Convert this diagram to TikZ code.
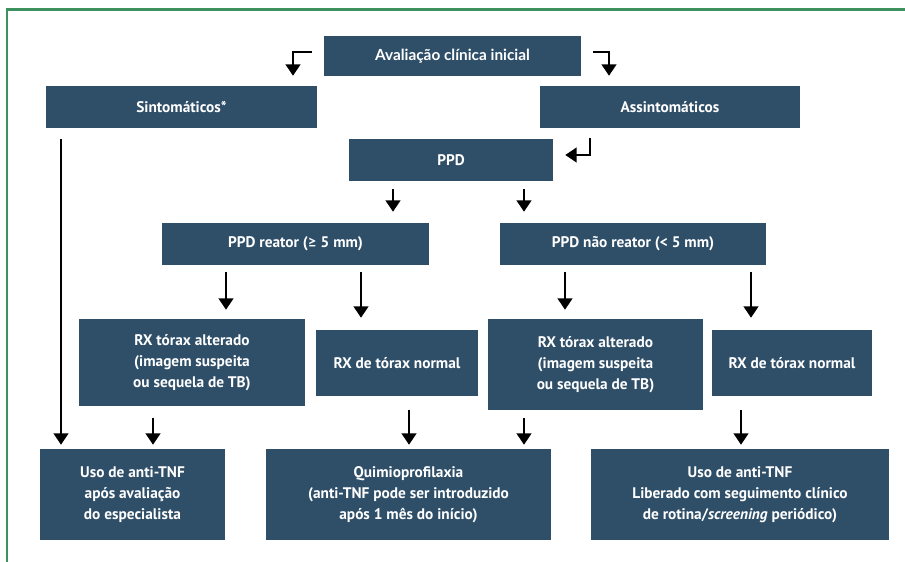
\documentclass[tikz,border=0pt]{standalone}
\usepackage{fontspec}
\setmainfont{PT Sans}
\newfontfamily\titlefont{Lato}
\usetikzlibrary{arrows.meta,calc}
\definecolor{boxblue}{RGB}{47,79,105}
\definecolor{framegreen}{RGB}{60,145,95}
\tikzstyle{block} = [rectangle, fill=boxblue, text=white, align=center,
    font=\bfseries\fontsize{11.5}{15.75}\selectfont, inner sep=0pt]
\tikzstyle{line} = [draw, line width=1.5pt, -{Triangle[width=11pt,length=8.5pt]}]
\tikzstyle{frame} = [draw=framegreen, line width=1.9pt]

\begin{document}
\begin{tikzpicture}[x=0.75pt, y=-0.75pt]
    \useasboundingbox (0,0) rectangle (905,561);
    % Frame
    \path [frame] (7,600) -- (7,9.5) -- (910,9.5);
    % Place nodes
    \node [block, minimum width=192.75pt, minimum height=30pt, font=\titlefont\bfseries\fontsize{11.5}{15.5}\selectfont] (aval) at (452.5,56) {Avaliação clínica inicial};
    \node [block, minimum width=203.25pt, minimum height=31.5pt] (sint) at (181.5,107) {Sintomáticos*};
    \node [block, minimum width=195pt, minimum height=31.5pt] (assint) at (670,107) {Assintomáticos};
    \node [block, minimum width=153pt, minimum height=31.5pt] (ppd) at (451,160) {PPD};
    \node [block, minimum width=200.25pt, minimum height=31.5pt] (reat) at (295.5,244) {PPD reator ({\titlefont ≥} 5 mm)};
    \node [block, minimum width=199.5pt, minimum height=31.5pt] (nreat) at (633,244) {PPD não reator (< 5 mm)};
    \node [block, minimum width=169.5pt, minimum height=65.25pt] (rxa1) at (192,362.5) {RX tórax alterado\\(imagem suspeita\\ou sequela de TB)};
    \node [block, minimum width=121.5pt, minimum height=49.5pt] (rxn1) at (397,363) {RX de tórax normal};
    \node [block, minimum width=161.25pt, minimum height=68.25pt] (rxa2) at (595.5,364.5) {RX tórax alterado\\(imagem suspeita\\ou sequela de TB)};
    \node [block, minimum width=120pt, minimum height=49.5pt] (rxn2) at (792,363) {RX de tórax normal};
    \node [block, minimum width=138.75pt, minimum height=68.25pt] (uso1) at (132.5,494.5) {Uso de anti-TNF\\após avaliação\\do especialista};
    \node [block, minimum width=213.75pt, minimum height=68.25pt] (quimio) at (408.5,494.5) {Quimioprofilaxia\\(anti-TNF pode ser introduzido\\após 1 mês do início)};
    \node [block, minimum width=223.5pt, minimum height=68.25pt] (uso2) at (740,494.5) {Uso de anti-TNF\\Liberado com seguimento clínico\\de rotina/\textit{screening} periódico)};
    % Draw edges
    \path [line] ($(aval.west)+(-12,-4)$) -| ($(sint.north)+(111.5,-10)$);
    \path [line] ($(aval.east)+(12,-4)$) -| ($(assint.north)+(-61,-10)$);
    \path [line] ($(ppd.east)+(37,-22)$) |- ($(ppd.east)+(12,-5)$);
    \path [line] ($(ppd.south)+(-58,8)$) -- ($(reat.north)+(97.5,-11)$);
    \path [line] ($(ppd.south)+(73,8)$) -- ($(nreat.north)+(-109,-11)$);
    \path [line] ($(reat.south)+(-69.5,7)$) -- ($(rxa1.north)+(34,-9)$);
    \path [line] ($(reat.south)+(65.5,7)$) -- ($(rxn1.north)+(-36,-12)$);
    \path [line] ($(nreat.south)+(-68,7)$) -- ($(rxa2.north)+(-30.5,-9)$);
    \path [line] ($(nreat.south)+(118,7)$) -- ($(rxn2.north)+(-41,-12)$);
    \path [line] ($(sint.south)+(-120.5,11)$) -- ($(uso1.north)+(-71.5,-4)$);
    \path [line] ($(rxa1.south)+(-39,12)$) -- ($(uso1.north)+(20.5,-4)$);
    \path [line] ($(rxn1.south)+(12,14)$) -- ($(quimio.north)+(0.5,-4)$);
    \path [line] ($(rxa2.south)+(-71.5,8)$) -- ($(quimio.north)+(115.5,-4)$);
    \path [line] ($(rxn2.south)+(-51,14)$) -- ($(uso2.north)+(1,-4)$);
\end{tikzpicture}
\end{document}
